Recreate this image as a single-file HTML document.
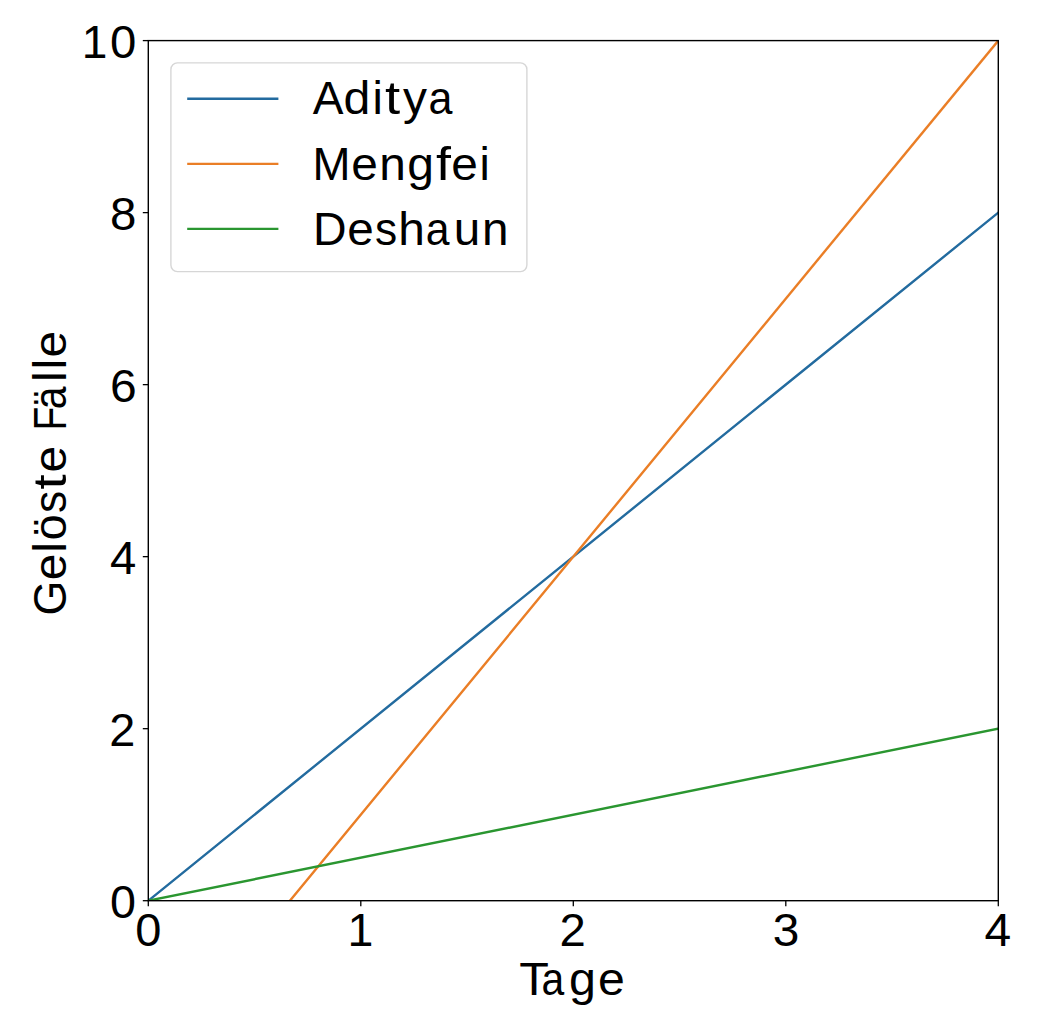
<!DOCTYPE html>
<html><head><meta charset="utf-8"><title>Gelöste Fälle</title><style>
html,body{margin:0;padding:0;background:#fff;width:1040px;height:1024px;overflow:hidden}
svg{display:block;}
text{font-family:"Liberation Sans",sans-serif;font-size:47.1px;fill:#000}
</style></head><body>
<svg width="1040" height="1024" viewBox="0 0 1040 1024">
<defs><clipPath id="ax"><rect x="148.3" y="40.6" width="850.0" height="860.1"/></clipPath></defs>
<rect width="1040" height="1024" fill="#fff"/>
<g clip-path="url(#ax)" fill="none" stroke-width="2.4" stroke-linecap="square">
<line x1="148.30" y1="900.70" x2="998.30" y2="212.62" stroke="#236b9f"/>
<line x1="148.30" y1="1072.72" x2="998.30" y2="40.60" stroke="#ea7e26"/>
<line x1="148.30" y1="900.70" x2="998.30" y2="728.68" stroke="#2a9630"/>
</g>
<rect x="148.3" y="40.6" width="850.0" height="860.1" fill="none" stroke="#000" stroke-width="1.4"/>
<g stroke="#000" stroke-width="1.3">
<line x1="148.30" y1="900.7" x2="148.30" y2="906.2"/>
<line x1="360.80" y1="900.7" x2="360.80" y2="906.2"/>
<line x1="573.30" y1="900.7" x2="573.30" y2="906.2"/>
<line x1="785.80" y1="900.7" x2="785.80" y2="906.2"/>
<line x1="998.30" y1="900.7" x2="998.30" y2="906.2"/>
<line x1="142.8" y1="900.70" x2="148.3" y2="900.70"/>
<line x1="142.8" y1="728.68" x2="148.3" y2="728.68"/>
<line x1="142.8" y1="556.66" x2="148.3" y2="556.66"/>
<line x1="142.8" y1="384.64" x2="148.3" y2="384.64"/>
<line x1="142.8" y1="212.62" x2="148.3" y2="212.62"/>
<line x1="142.8" y1="40.60" x2="148.3" y2="40.60"/>
</g>
<rect x="170.9" y="62.9" width="356" height="208.7" rx="6.5" ry="6.5" fill="#fff" fill-opacity="0.8" stroke="#cccccc" stroke-opacity="0.8" stroke-width="1.4"/>
<g stroke-width="2.3" stroke-linecap="butt">
<line x1="187.2" y1="98.75" x2="278.4" y2="98.75" stroke="#236b9f"/>
<line x1="187.2" y1="163.8" x2="278.4" y2="163.8" stroke="#ea7e26"/>
<line x1="187.2" y1="228.9" x2="278.4" y2="228.9" stroke="#2a9630"/>
</g>
<text y="229.82"><tspan x="110.00" textLength="26.41" lengthAdjust="spacingAndGlyphs">8</tspan></text>
<text y="401.84"><tspan x="109.91" textLength="26.75" lengthAdjust="spacingAndGlyphs">6</tspan></text>
<text y="573.86"><tspan x="109.95" textLength="26.30" lengthAdjust="spacingAndGlyphs">4</tspan></text>
<text y="745.88"><tspan x="109.31" textLength="26.08" lengthAdjust="spacingAndGlyphs">2</tspan></text>
<text y="917.90"><tspan x="110.11" textLength="25.97" lengthAdjust="spacingAndGlyphs">0</tspan></text>
<text y="57.80"><tspan x="81.75" textLength="25.64" lengthAdjust="spacingAndGlyphs">1</tspan></text>
<text y="57.80"><tspan x="110.09" textLength="26.32" lengthAdjust="spacingAndGlyphs">0</tspan></text>
<text y="945.90"><tspan x="135.16" textLength="26.18" lengthAdjust="spacingAndGlyphs">0</tspan></text>
<text y="945.90"><tspan x="347.47" textLength="25.88" lengthAdjust="spacingAndGlyphs">1</tspan></text>
<text y="945.90"><tspan x="559.45" textLength="26.30" lengthAdjust="spacingAndGlyphs">2</tspan></text>
<text y="945.90"><tspan x="772.79" textLength="26.59" lengthAdjust="spacingAndGlyphs">3</tspan></text>
<text y="945.90"><tspan x="984.45" textLength="26.70" lengthAdjust="spacingAndGlyphs">4</tspan></text>
<text y="995.20"><tspan x="519.39" textLength="29.66" lengthAdjust="spacingAndGlyphs">T</tspan><tspan x="541.56" textLength="22.73" lengthAdjust="spacingAndGlyphs">a</tspan><tspan x="569.10" textLength="26.95" lengthAdjust="spacingAndGlyphs">g</tspan><tspan x="597.91" textLength="26.85" lengthAdjust="spacingAndGlyphs">e</tspan></text>
<text transform="translate(65.5,612.9) rotate(-90)" y="0"><tspan x="-2.72" textLength="34.91" lengthAdjust="spacingAndGlyphs">G</tspan><tspan x="32.56" textLength="26.54" lengthAdjust="spacingAndGlyphs">e</tspan><tspan x="60.50" textLength="10.26" lengthAdjust="spacingAndGlyphs">l</tspan><tspan x="72.32" textLength="26.29" lengthAdjust="spacingAndGlyphs">ö</tspan><tspan x="99.89" textLength="22.21" lengthAdjust="spacingAndGlyphs">s</tspan><tspan x="123.36" textLength="15.06" lengthAdjust="spacingAndGlyphs">t</tspan><tspan x="140.30" textLength="26.54" lengthAdjust="spacingAndGlyphs">e</tspan> <tspan x="182.34" textLength="23.80" lengthAdjust="spacingAndGlyphs">F</tspan><tspan x="203.65" textLength="22.69" lengthAdjust="spacingAndGlyphs">ä</tspan><tspan x="231.26" textLength="10.26" lengthAdjust="spacingAndGlyphs">l</tspan><tspan x="243.64" textLength="10.26" lengthAdjust="spacingAndGlyphs">l</tspan><tspan x="255.49" textLength="26.54" lengthAdjust="spacingAndGlyphs">e</tspan></text>
<text y="114.30"><tspan x="312.79" textLength="30.75" lengthAdjust="spacingAndGlyphs">A</tspan><tspan x="343.45" textLength="26.83" lengthAdjust="spacingAndGlyphs">d</tspan><tspan x="372.57" textLength="10.33" lengthAdjust="spacingAndGlyphs">i</tspan><tspan x="385.08" textLength="15.17" lengthAdjust="spacingAndGlyphs">t</tspan><tspan x="403.02" textLength="23.95" lengthAdjust="spacingAndGlyphs">y</tspan><tspan x="428.59" textLength="23.95" lengthAdjust="spacingAndGlyphs">a</tspan></text>
<text y="179.50"><tspan x="312.43" textLength="37.99" lengthAdjust="spacingAndGlyphs">M</tspan><tspan x="351.29" textLength="26.61" lengthAdjust="spacingAndGlyphs">e</tspan><tspan x="379.26" textLength="26.58" lengthAdjust="spacingAndGlyphs">n</tspan><tspan x="407.24" textLength="26.71" lengthAdjust="spacingAndGlyphs">g</tspan><tspan x="435.98" textLength="14.95" lengthAdjust="spacingAndGlyphs">f</tspan><tspan x="451.37" textLength="26.61" lengthAdjust="spacingAndGlyphs">e</tspan><tspan x="479.46" textLength="10.28" lengthAdjust="spacingAndGlyphs">i</tspan></text>
<text y="244.50"><tspan x="312.97" textLength="33.57" lengthAdjust="spacingAndGlyphs">D</tspan><tspan x="347.35" textLength="26.53" lengthAdjust="spacingAndGlyphs">e</tspan><tspan x="375.02" textLength="22.20" lengthAdjust="spacingAndGlyphs">s</tspan><tspan x="398.25" textLength="26.61" lengthAdjust="spacingAndGlyphs">h</tspan><tspan x="425.81" textLength="23.76" lengthAdjust="spacingAndGlyphs">a</tspan><tspan x="453.70" textLength="26.50" lengthAdjust="spacingAndGlyphs">u</tspan><tspan x="482.12" textLength="26.50" lengthAdjust="spacingAndGlyphs">n</tspan></text>
</svg>
</body></html>
